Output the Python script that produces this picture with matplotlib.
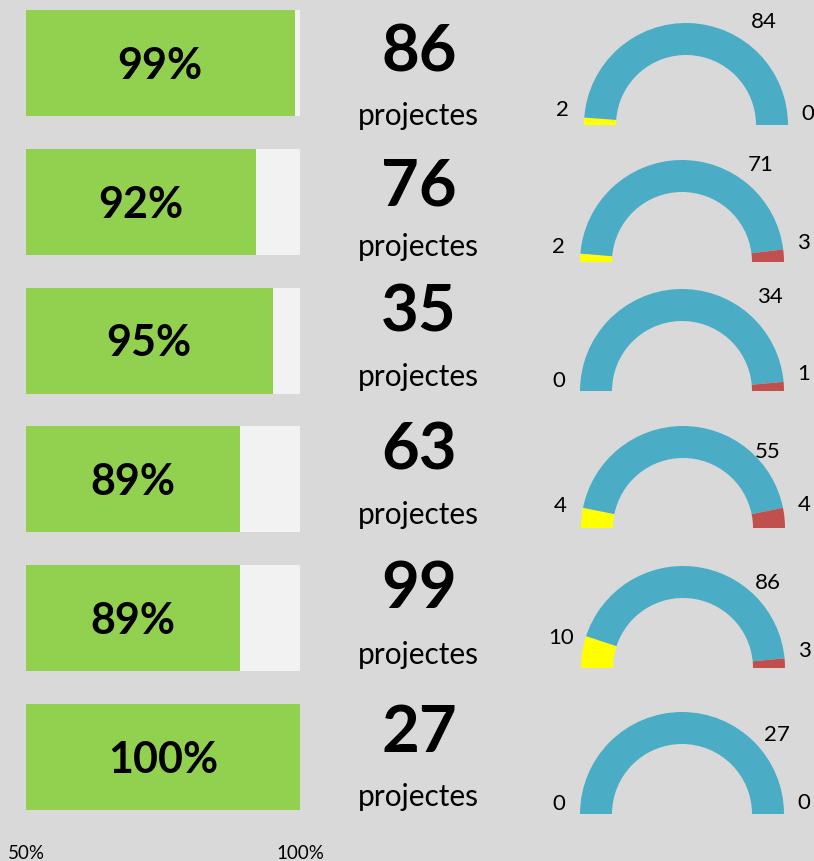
import matplotlib.pyplot as plt
import numpy as np

plt.rcParams['font.family'] = ['Lato', 'DejaVu Sans']

# data
pct = [0.99, 0.92, 0.95, 0.89, 0.89, 1.00]
totals = [86, 76, 35, 63, 99, 27]
yellow_vals = [2, 2, 0, 4, 10, 0]
blue_vals = [84, 71, 34, 55, 86, 27]
red_vals = [0, 3, 1, 4, 3, 0]
tick_vals = [0.5, 1.0]
tick_labels = ['50%', '100%']

# layout (pixels, from the top)
W, H = 814, 861
num_y = [53, 187, 313, 451, 590, 733]
proj_y = [116, 247, 377, 515, 655, 797]
gauge_cx = [686, 682, 682, 683, 683, 682]
gauge_by = [125, 262, 391, 528, 668, 814]
top_ang = [53, 51, 47, 42, 45, 40]
top_rad = [1.26, 1.22, 1.26, 1.12, 1.18, 1.21]
R, RING = 102, 32

bg = '#d9d9d9'
fig = plt.figure(figsize=(W / 100, H / 100), dpi=100, facecolor=bg)

# bars
ax = fig.add_axes([26 / W, (H - 834) / H, 274 / W, 834 / H])
ax.set_facecolor(bg)
rows = np.arange(len(pct))
ax.barh(rows, 0.5, left=0.5, height=0.764, color='#f2f2f2')
ax.barh(rows, np.array(pct) - 0.5, left=0.5, height=0.764, color='#92d050')
for i, v in enumerate(pct):
    ax.text(0.5 + (v - 0.5) / 2, i + 0.02, f'{v:.0%}', ha='center', va='center',
            fontsize=31, fontweight='bold', color='black')
ax.set_xlim(0.5, 1.0)
ax.set_ylim(5.555, -0.454)
ax.set_xticks(tick_vals)
ax.set_xticklabels(tick_labels, fontsize=13.5)
ax.set_yticks([])
ax.tick_params(axis='x', length=0, pad=8)
for s in ax.spines.values():
    s.set_visible(False)

# middle numbers
for i, t in enumerate(totals):
    fig.text(419 / W, 1 - num_y[i] / H, str(t), ha='center', va='center',
             fontsize=47, fontweight='bold')
    fig.text(418 / W, 1 - proj_y[i] / H, 'projectes', ha='center', va='center',
             fontsize=21.5)

# gauges
ax2 = fig.add_axes([0, 0, 1, 1])
for i in range(len(totals)):
    vals = [yellow_vals[i], blue_vals[i], red_vals[i]]
    tot = sum(vals)
    cx, cy = gauge_cx[i], H - gauge_by[i]
    ax2.pie(vals + [tot], colors=['#ffff00', '#4bacc6', '#c0504d', 'none'],
            startangle=180, counterclock=False, radius=R, center=(cx, cy),
            wedgeprops=dict(width=RING, edgecolor='none', linewidth=0))
    a_y = np.deg2rad(180 - yellow_vals[i] / tot * 90)
    a_r = np.deg2rad(red_vals[i] / tot * 90)
    a_t = np.deg2rad(top_ang[i])
    kw = dict(ha='center', va='center', fontsize=16)
    ax2.text(cx + 1.21 * R * np.cos(a_y), cy + 1.2 * R * np.sin(a_y) + 0.1 * R,
             str(yellow_vals[i]), **kw)
    ax2.text(cx + 1.19 * R * np.cos(a_r), cy + 1.19 * R * np.sin(a_r) + 0.11 * R,
             str(red_vals[i]), **kw)
    ax2.text(cx + top_rad[i] * R * np.cos(a_t), cy + top_rad[i] * R * np.sin(a_t),
             str(blue_vals[i]), **kw)
ax2.set_xlim(0, W)
ax2.set_ylim(0, H)
ax2.set_aspect('auto')
ax2.axis('off')

fig.savefig('out.png', dpi=100, facecolor=bg)
